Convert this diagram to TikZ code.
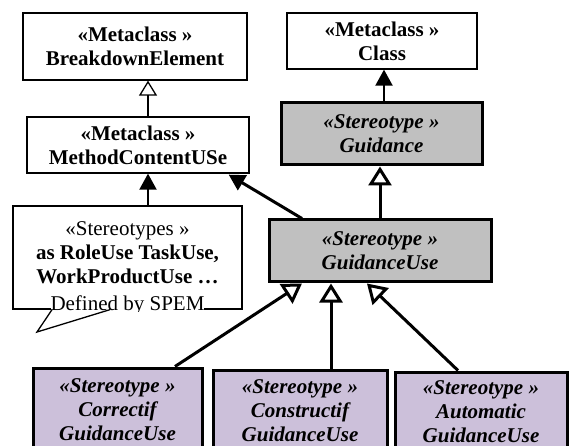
\documentclass[tikz,border=0pt]{standalone}
\usepackage{fontspec}
\setmainfont{Liberation Serif}
\usetikzlibrary{arrows.meta}
\definecolor{stgray}{RGB}{192,192,192}
\definecolor{stpurple}{RGB}{204,192,218}
\tikzset{
  txt/.style={font=\fontsize{21}{24}\selectfont, align=center, inner sep=0pt},
  metabox/.style={draw, line width=1.3pt, fill=white, txt},
  graybox/.style={draw, line width=3pt, fill=stgray, txt},
  purplebox/.style={draw, line width=3pt, fill=stpurple, txt},
  openhead/.style={-{Triangle[open, width=23pt, length=19pt, fill=white]}},
  thinopenhead/.style={-{Triangle[open, width=18pt, length=15pt, fill=white]}},
  fullhead/.style={-{Triangle[width=17pt, length=16pt]}},
}
\begin{document}
\begin{tikzpicture}[x=1pt, y=-1pt]
\useasboundingbox (0,0) rectangle (570,446);
% top-left metaclasses
\node[metabox, minimum width=224pt, minimum height=67pt] (be) at (135,46.5)
  {\bfseries «Metaclass »\\\bfseries BreakdownElement};
\node[metabox, minimum width=222pt, minimum height=56pt] (mcu) at (138,145)
  {\bfseries «Metaclass »\\\bfseries MethodContentUSe};
% top-right
\node[metabox, minimum width=190pt, minimum height=56pt] (cls) at (382,41)
  {\bfseries «Metaclass »\\\bfseries Class};
\node[graybox, minimum width=201pt, minimum height=62pt] (guid) at (381.5,134)
  {\bfseries\itshape «Stereotype »\\\bfseries\itshape Guidance};
\node[graybox, minimum width=222pt, minimum height=62pt] (gu) at (380,251)
  {\bfseries\itshape «Stereotype »\\\bfseries\itshape GuidanceUse};
% note
\node[draw, line width=1.3pt, fill=white, minimum width=229pt, minimum height=103pt, inner sep=0pt] (note) at (127.5,257.5) {};
\node[txt] (notetext) at (127.5,253)
  {«Stereotypes »\\\bfseries as RoleUse TaskUse,\\\bfseries WorkProductUse …};
\begin{scope}
  \clip (10,290) rectangle (245,311.5);
  \node[txt, anchor=base, fill=white] (notelast) at (127.5,310) {Defined by SPEM};
\end{scope}
\coordinate (tip) at (37,332);
\draw[line width=1.3pt] ([xshift=-75.5pt]note.south) -- (tip) -- ([xshift=-17.5pt]note.south);
% bottom stereotypes
\node[purplebox, minimum width=169pt, minimum height=84pt] (cor) at (117.5,410)
  {\bfseries\itshape «Stereotype »\\\bfseries\itshape Correctif\\\bfseries\itshape GuidanceUse};
\node[purplebox, minimum width=174pt, minimum height=82pt] (con) at (300,411)
  {\bfseries\itshape «Stereotype »\\\bfseries\itshape Constructif\\\bfseries\itshape GuidanceUse};
\node[purplebox, minimum width=172pt, minimum height=79pt, text depth=0pt] (aut) at (481,411.5)
  {\bfseries\itshape «Stereotype »\\\bfseries\itshape Automatic\\\bfseries\itshape GuidanceUse};
% connectors
\draw[thinopenhead, line width=1.3pt] ([xshift=10pt]mcu.north) -- ([xshift=13pt]be.south);
\draw[fullhead, line width=2pt] ([xshift=20.5pt]note.north) -- ([xshift=10pt]mcu.south);
\draw[fullhead, line width=2pt] ([xshift=2.5pt]guid.north) -- ([xshift=2pt]cls.south);
\draw[openhead, line width=3pt] (gu.north) -- ([xshift=-1.5pt]guid.south);
\draw[fullhead, line width=3pt] ([xshift=-78pt]gu.north) -- ([xshift=-21pt,yshift=-1pt]mcu.south east);
\draw[openhead, line width=3pt] ([xshift=57.5pt]cor.north) -- ([xshift=-78pt]gu.south);
\draw[openhead, line width=3pt] ([xshift=31pt]con.north) -- ([xshift=-49pt]gu.south);
\draw[openhead, line width=3pt] ([xshift=-23pt]aut.north) -- ([xshift=-13pt]gu.south);
\end{tikzpicture}
\end{document}
